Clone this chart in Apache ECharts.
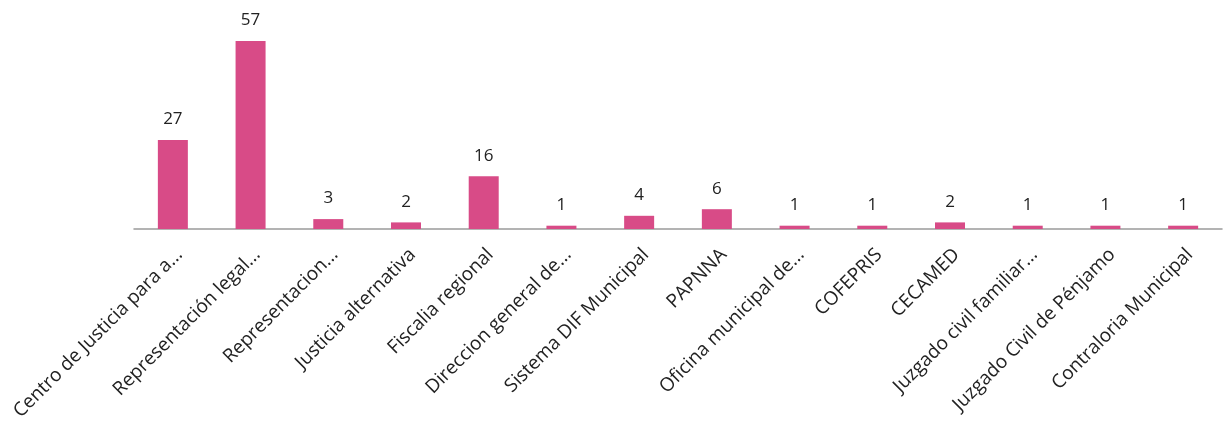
<!DOCTYPE html>
<html>
<head>
<meta charset="utf-8">
<script src="https://cdn.jsdelivr.net/npm/echarts@6/dist/echarts.min.js"></script>
<style>html,body{margin:0;padding:0;background:#fff;}#c{width:1225px;height:430px;}</style>
</head>
<body>
<div id="c"></div>
<script>
const categories = [
  "Centro de Justicia para a...",
  "Representación legal...",
  "Representacion...",
  "Justicia alternativa",
  "Fiscalia regional",
  "Direccion general de...",
  "Sistema DIF Municipal",
  "PAPNNA",
  "Oficina municipal de...",
  "COFEPRIS",
  "CECAMED",
  "Juzgado civil familiar...",
  "Juzgado Civil de Pénjamo",
  "Contraloria Municipal"
];
const values = [27, 57, 3, 2, 16, 1, 4, 6, 1, 1, 2, 1, 1, 1];

const chart = echarts.init(document.getElementById('c'));
chart.setOption({
  animation: false,
  grid: { left: 134, right: 3, top: 31, height: 198 },
  xAxis: {
    type: 'category',
    data: categories,
    axisLine: { lineStyle: { color: '#9a9a9a', width: 1.5 } },
    axisTick: { show: false },
    axisLabel: {
      rotate: 45,
      interval: 0,
      margin: 16,
      verticalAlign: 'top',
      color: '#222',
      fontFamily: 'Open Sans',
      fontSize: 19
    }
  },
  yAxis: {
    type: 'value',
    min: 0,
    max: 60,
    show: false,
    splitLine: { show: false }
  },
  series: [{
    type: 'bar',
    data: values,
    barWidth: 30,
    itemStyle: { color: '#d84b87' },
    label: {
      show: true,
      position: 'top',
      distance: 12,
      color: '#222',
      fontFamily: 'Open Sans',
      fontSize: 17
    }
  }]
});
</script>
</body>
</html>
